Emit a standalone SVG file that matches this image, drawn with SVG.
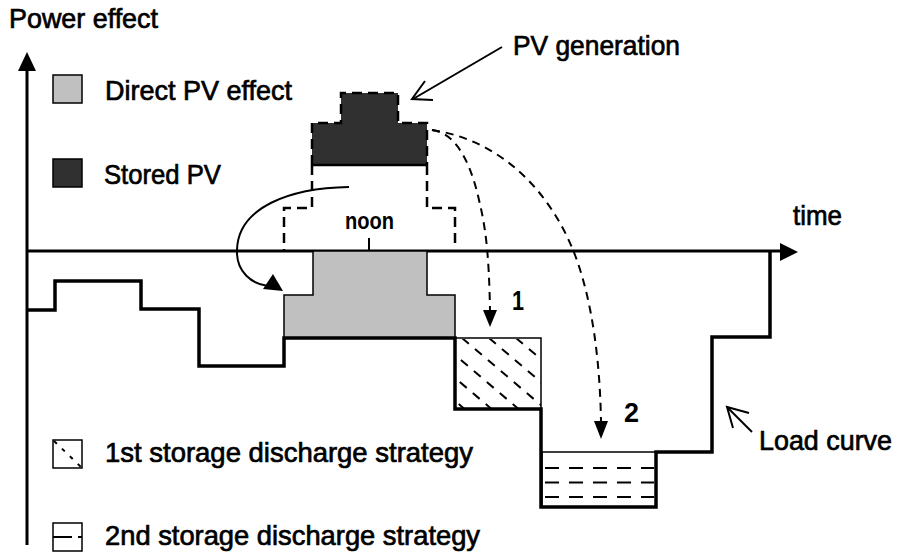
<svg xmlns="http://www.w3.org/2000/svg" width="898" height="555" viewBox="0 0 898 555">
<style>
text{font-family:"Liberation Sans",Arial,sans-serif;fill:#000;stroke:#000;stroke-width:0.7}
.lbl{font-size:28px}
.num{font-size:28px;font-weight:bold;stroke-width:0}
.thick{fill:none;stroke:#000;stroke-width:3.5;stroke-linejoin:miter}
.axis{fill:none;stroke:#000;stroke-width:3}
.thin{fill:none;stroke:#000;stroke-width:1.5}
.dash{fill:none;stroke:#000;stroke-width:2.5;stroke-dasharray:10 6}
.dcurve{fill:none;stroke:#000;stroke-width:2;stroke-dasharray:8 6}
.hatch{fill:none;stroke:#000;stroke-width:2;stroke-dasharray:9 8}
.hdash{fill:none;stroke:#000;stroke-width:2;stroke-dasharray:14 10}
</style>
<defs>
<clipPath id="cb1"><rect x="456" y="339" width="85" height="70"/></clipPath>
</defs>
<rect width="898" height="555" fill="#fff"/>

<g id="axes">
<line class="axis" x1="27" y1="66" x2="27" y2="545"/>
<polygon points="27,52 18,71 36,71" fill="#000"/>
<line class="axis" x1="27" y1="251" x2="783" y2="251"/>
<polygon points="798,252 780,243 780,261" fill="#000"/>
<line x1="369" y1="238" x2="369" y2="251" stroke="#000" stroke-width="2"/>
<text x="9" y="28" class="lbl" textLength="149" lengthAdjust="spacingAndGlyphs">Power effect</text>
<text x="793" y="225" class="lbl" textLength="49" lengthAdjust="spacingAndGlyphs">time</text>
<text x="345" y="229" style="font-size:23px;font-weight:bold;stroke-width:0" textLength="49" lengthAdjust="spacingAndGlyphs">noon</text>
</g>

<g id="direct-pv">
<path d="M313,251 V295 H284 V338 H455 V295 H427 V251 Z" fill="#c0c0c0" stroke="#000" stroke-width="1.5"/>
</g>

<g id="pv-generation">
<polygon points="341,93 398,93 398,123 427,123 427,165 312,165 312,123 341,123" fill="#303030"/>
<polyline class="dash" points="312,165 312,123 341,123 341,93 398,93 398,123 427,123 427,165"/>
<line x1="312" y1="165" x2="427" y2="165" stroke="#000" stroke-width="2.5"/>
<path class="dash" d="M312,165 V208 H284 V251 M427,165 V208 H455 V246"/>
<text x="513" y="55" class="lbl" textLength="167" lengthAdjust="spacingAndGlyphs">PV generation</text>
<line x1="502" y1="47" x2="413" y2="99" stroke="#000" stroke-width="2"/>
<polyline points="433,100 412,99 425,81" fill="none" stroke="#000" stroke-width="2"/>
</g>

<g id="strategy1-box">
<rect x="455" y="338" width="86" height="71" fill="#fff" stroke="#000" stroke-width="1.5"/>
<g clip-path="url(#cb1)">
<line class="hatch" x1="381" y1="338" x2="465" y2="409.4"/>
<line class="hatch" x1="408" y1="338" x2="492" y2="409.4"/>
<line class="hatch" x1="435" y1="338" x2="519" y2="409.4"/>
<line class="hatch" x1="462" y1="338" x2="546" y2="409.4"/>
<line class="hatch" x1="489" y1="338" x2="573" y2="409.4"/>
<line class="hatch" x1="516" y1="338" x2="600" y2="409.4"/>
</g>
<text x="512" y="310" class="num" textLength="12" lengthAdjust="spacingAndGlyphs">1</text>
</g>

<g id="strategy2-box">
<rect x="542" y="452" width="114" height="55" fill="#fff" stroke="#000" stroke-width="1.5"/>
<line class="hdash" x1="545" y1="468" x2="654" y2="468"/>
<line class="hdash" x1="545" y1="482.5" x2="654" y2="482.5"/>
<line class="hdash" x1="545" y1="497" x2="654" y2="497"/>
<text x="624" y="422" class="num" textLength="15" lengthAdjust="spacingAndGlyphs">2</text>
</g>

<g id="load-curve">
<polyline class="thick" points="27,310 55,310 55,281 141,281 141,309 199,309 199,366 284,366 284,338 455,338 455,409 541,409 541,507 656,507 656,452 712,452 712,337 770,337 770,251"/>
<text x="759" y="450" class="lbl" textLength="133" lengthAdjust="spacingAndGlyphs">Load curve</text>
<line x1="752" y1="432" x2="728" y2="408" stroke="#000" stroke-width="2"/>
<polyline points="749,413 727,407 733,428" fill="none" stroke="#000" stroke-width="2"/>
</g>

<g id="connectors">
<path d="M349,187 C290,188 238,207 237,250 C236,272 252,284 268,286" fill="none" stroke="#000" stroke-width="2"/>
<polygon points="283,291 263,289 273,274" fill="#000"/>
<path class="dcurve" d="M432,130 C455,133 470,160 479,200 C485,225 489,250 490,311"/>
<polygon points="490,327 483,310 497,310" fill="#000"/>
<path class="dcurve" d="M432,130 C500,140 550,190 575,255 C592,300 600,360 601,422"/>
<polygon points="601,439 594,421 608,421" fill="#000"/>
</g>

<g id="legend">
<rect x="53" y="75" width="29" height="28" fill="#c0c0c0" stroke="#000" stroke-width="1.5"/>
<text x="105" y="100" class="lbl" textLength="187" lengthAdjust="spacingAndGlyphs">Direct PV effect</text>
<rect x="53" y="159" width="29" height="28" fill="#303030" stroke="#000" stroke-width="1.5"/>
<text x="104" y="184" class="lbl" textLength="117" lengthAdjust="spacingAndGlyphs">Stored PV</text>
<rect x="53" y="440" width="29" height="28" fill="#fff" stroke="#000" stroke-width="1.5"/>
<line x1="54" y1="441" x2="81" y2="467" stroke="#000" stroke-width="2" stroke-dasharray="4 7"/>
<text x="105" y="462" class="lbl" textLength="368" lengthAdjust="spacingAndGlyphs">1st storage discharge strategy</text>
<rect x="53" y="523" width="29" height="28" fill="#fff" stroke="#000" stroke-width="1.5"/>
<line x1="53" y1="537" x2="72" y2="537" stroke="#000" stroke-width="2"/>
<line x1="78" y1="537" x2="82" y2="537" stroke="#000" stroke-width="2"/>
<text x="105" y="545" class="lbl" textLength="375" lengthAdjust="spacingAndGlyphs">2nd storage discharge strategy</text>
</g>
</svg>
